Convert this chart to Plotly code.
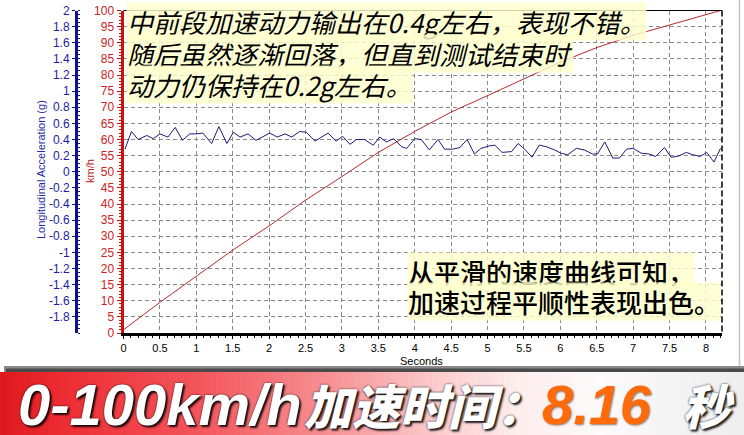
import plotly.graph_objects as go

# ---------------- data ----------------
speed_t = [0, 0.5, 1, 1.5, 2, 2.5, 3, 3.5, 4, 4.5, 5, 5.5, 6, 6.5, 7, 7.5, 8, 8.2]
speed_kmh = [1, 9.5, 17.6, 25.7, 33.2, 41.2, 48.5, 56, 62.5, 68.5, 73.6, 78.7, 84, 88.5, 92.3, 95.5, 98.7, 100]

acc_t = [0.02, 0.11, 0.20, 0.32, 0.41, 0.50, 0.61, 0.71, 0.81, 0.91, 1.00, 1.09, 1.21, 1.31, 1.42,
         1.51, 1.60, 1.71, 1.82, 1.92, 2.01, 2.11, 2.22, 2.31, 2.42, 2.51, 2.63, 2.72, 2.81, 2.92,
         3.01, 3.11, 3.20, 3.31, 3.43, 3.52, 3.61, 3.71, 3.82, 3.89, 4.00, 4.09, 4.20, 4.32, 4.41,
         4.52, 4.62, 4.72, 4.82, 4.91, 5.02, 5.10, 5.20, 5.33, 5.42, 5.51, 5.61, 5.71, 5.81, 5.92,
         6.01, 6.10, 6.22, 6.33, 6.44, 6.51, 6.61, 6.72, 6.81, 6.91, 7.00, 7.11, 7.22, 7.31, 7.43,
         7.52, 7.61, 7.73, 7.82, 7.92, 8.01, 8.11, 8.20]
acc_g = [0.28, 0.50, 0.40, 0.45, 0.41, 0.47, 0.43, 0.55, 0.39, 0.47, 0.47, 0.48, 0.35, 0.56, 0.35,
         0.49, 0.43, 0.47, 0.39, 0.44, 0.48, 0.43, 0.47, 0.43, 0.50, 0.49, 0.38, 0.43, 0.48, 0.38,
         0.44, 0.34, 0.40, 0.40, 0.33, 0.43, 0.37, 0.41, 0.31, 0.29, 0.41, 0.40, 0.27, 0.40, 0.28,
         0.28, 0.30, 0.40, 0.22, 0.29, 0.32, 0.33, 0.24, 0.25, 0.35, 0.28, 0.18, 0.33, 0.31, 0.27,
         0.23, 0.21, 0.29, 0.27, 0.22, 0.22, 0.37, 0.17, 0.17, 0.28, 0.29, 0.23, 0.22, 0.19, 0.30,
         0.18, 0.19, 0.24, 0.21, 0.19, 0.24, 0.12, 0.29]

x_ticks = [0, 0.5, 1, 1.5, 2, 2.5, 3, 3.5, 4, 4.5, 5, 5.5, 6, 6.5, 7, 7.5, 8]
kmh_ticks = list(range(0, 101, 5))
g_ticks = [2, 1.8, 1.6, 1.4, 1.2, 1, 0.8, 0.6, 0.4, 0.2, 0, -0.2, -0.4, -0.6, -0.8, -1, -1.2,
           -1.4, -1.6, -1.8]

note_top = ["中前段加速动力输出在0.4g左右，表现不错。",
            "随后虽然逐渐回落，但直到测试结束时",
            "动力仍保持在0.2g左右。"]
note_bottom = ["从平滑的速度曲线可知，", "加速过程平顺性表现出色。"]
banner_parts = ["0-100km/h", "加速时间：", "8.16", "秒"]

# ---------------- geometry helpers ----------------
W, H = 744, 435
def px(x):
    return x / W
def py(y):
    return 1 - y / H

X0, X1 = 123.5, 722
Y_TOP, Y_BOT = 10.5, 333

fig = go.Figure()
fig.add_trace(go.Scatter(x=speed_t, y=speed_kmh, mode="lines",
                         line=dict(color="#b52a2a", width=1), yaxis="y", showlegend=False))
fig.add_trace(go.Scatter(x=acc_t, y=acc_g, mode="lines",
                         line=dict(color="#1b1b78", width=1), yaxis="y2", showlegend=False))

lat = "Liberation Sans, Arial, sans-serif"

fig.update_layout(
    width=W, height=H,
    margin=dict(l=0, r=0, t=0, b=0, autoexpand=False),
    paper_bgcolor="white", plot_bgcolor="white",
    showlegend=False,
    xaxis=dict(domain=[px(X0), px(X1)], range=[0, 8.22], tickvals=x_ticks,
               ticktext=[str(v) for v in x_ticks], automargin=False,
               showline=True, linecolor="black", linewidth=2.5,
               ticks="outside", ticklen=3, tickcolor="black",
               minor=dict(dtick=0.1, ticks="outside", ticklen=2, tickcolor="black", showgrid=False),
               showgrid=True, gridcolor="#8a8a8a", griddash="4px,3px", gridwidth=1,
               tickfont=dict(family=lat, size=11, color="black"),
               zeroline=False, anchor="y", fixedrange=True),
    yaxis=dict(domain=[py(Y_BOT), py(Y_TOP)], range=[0, 100], tickvals=kmh_ticks,
               automargin=False,
               showline=True, linecolor="#cc1111", linewidth=3,
               ticks="outside", ticklen=4, tickcolor="#cc1111",
               minor=dict(dtick=1, ticks="outside", ticklen=2, tickcolor="#cc1111"),
               showgrid=True, gridcolor="#8a8a8a", griddash="4px,3px", gridwidth=1,
               tickfont=dict(family=lat, size=12, color="#cc2222"),
               zeroline=False, anchor="x"),
    yaxis2=dict(domain=[py(Y_BOT), py(Y_TOP)], range=[-2, 2], tickvals=g_ticks,
                ticktext=[("%g" % v) for v in g_ticks], automargin=False,
                overlaying="y", anchor="free", position=px(76), side="left",
                showline=True, linecolor="#101090", linewidth=2.5,
                ticks="outside", ticklen=3, tickcolor="#101090",
                minor=dict(dtick=0.05, ticks="inside", ticklen=2, tickcolor="#101090"),
                showgrid=False, zeroline=False,
                tickfont=dict(family=lat, size=12, color="#1c1c9c")),
)

shapes = []
shapes.append(dict(type="line", xref="paper", yref="paper", x0=px(X0), x1=px(X1),
                   y0=py(Y_TOP), y1=py(Y_TOP), line=dict(color="black", width=1)))
shapes.append(dict(type="line", xref="paper", yref="paper", x0=px(X1), x1=px(X1),
                   y0=py(Y_TOP), y1=py(Y_BOT), line=dict(color="black", width=1.5, dash="6px,3px")))
shapes.append(dict(type="line", xref="paper", yref="paper", x0=px(739.5), x1=px(739.5),
                   y0=py(0), y1=py(368), line=dict(color="#c4c4c4", width=1.5)))

# banner gradient
stops = [(0, (222, 24, 30)), (60, (236, 44, 50)), (200, (243, 86, 92)), (330, (247, 145, 148)),
         (430, (251, 200, 202)), (520, (254, 238, 238)), (600, (252, 250, 250)), (744, (238, 238, 238))]
def col_at(x):
    for (xa, ca), (xb, cb) in zip(stops[:-1], stops[1:]):
        if xa <= x <= xb:
            f = (x - xa) / (xb - xa)
            return "rgb(%d,%d,%d)" % tuple(round(a + (b - a) * f) for a, b in zip(ca, cb))
    return "rgb(238,238,238)"
step = 6
for x in range(0, W, step):
    shapes.append(dict(type="rect", xref="paper", yref="paper", x0=px(x), x1=px(min(W, x + step + 0.6)),
                       y0=py(H), y1=py(372), fillcolor=col_at(x + step / 2), line=dict(width=0),
                       layer="above"))
shapes.append(dict(type="rect", xref="paper", yref="paper", x0=px(4), x1=px(W), y0=py(372), y1=py(366),
                   fillcolor="#8a8a8a", line=dict(width=0), layer="above"))
shapes.append(dict(type="rect", xref="paper", yref="paper", x0=px(6), x1=px(W), y0=py(372), y1=py(368.5),
                   fillcolor="#4a4a4a", line=dict(width=0), layer="above"))
fig.update_layout(shapes=shapes)

ann = []
ann.append(dict(text="Longitudinal Acceleration (g)", x=px(41), y=py(170), xref="paper", yref="paper",
                textangle=-90, showarrow=False, xanchor="center", yanchor="middle",
                font=dict(family=lat, size=11, color="#2a2aa0")))
ann.append(dict(text="km/h", x=px(90), y=py(171), xref="paper", yref="paper",
                textangle=-90, showarrow=False, xanchor="center", yanchor="middle",
                font=dict(family=lat, size=11, color="#c02020")))
ann.append(dict(text="Seconds", x=px(421), y=py(361), xref="paper", yref="paper",
                showarrow=False, xanchor="center", yanchor="middle",
                font=dict(family=lat, size=11, color="black")))

cjk = "Noto Sans CJK SC, sans-serif"
for i, line in enumerate(note_top):
    ann.append(dict(text="<i>" + line + "</i>", x=px(126), y=py(21.5 + 31.7 * i), xref="paper", yref="paper",
                    showarrow=False, xanchor="left", yanchor="middle", borderpad=0,
                    bgcolor="rgba(255,255,205,0.82)",
                    font=dict(family=cjk, size=26, color="black")))
for i, line in enumerate(note_bottom):
    ann.append(dict(text=line, x=px(407), y=py(271.5 + 30 * i), xref="paper", yref="paper",
                    showarrow=False, xanchor="left", yanchor="middle", borderpad=0,
                    bgcolor="rgba(255,255,205,0.82)",
                    font=dict(family=cjk, size=26, color="black", weight=500)))

shadow = "2px 2px 2px rgba(0,0,0,0.85), 0px 0px 2px rgba(0,0,0,0.9)"
banner_pos = [(16, lat, 58, "white"),
              (302, cjk, 48, "white"),
              (540, lat, 56, "#ff6a0a"),
              (680, cjk, 48, "white")]
for text, (x, fam, size, color) in zip(banner_parts, banner_pos):
    ann.append(dict(text="<i>" + text + "</i>", x=px(x), y=py(404), xref="paper", yref="paper",
                    showarrow=False, xanchor="left", yanchor="middle",
                    font=dict(family=fam, size=size, color=color, weight=900,
                              shadow=shadow if color == "white" else "1px 1px 2px rgba(80,30,0,0.6)")))
fig.update_layout(annotations=ann)

fig.write_html("out.html", config={"displayModeBar": False, "staticPlot": True},
               post_script="document.body.style.margin='0';document.body.style.padding='0';"
                           "document.body.style.overflow='hidden';")
